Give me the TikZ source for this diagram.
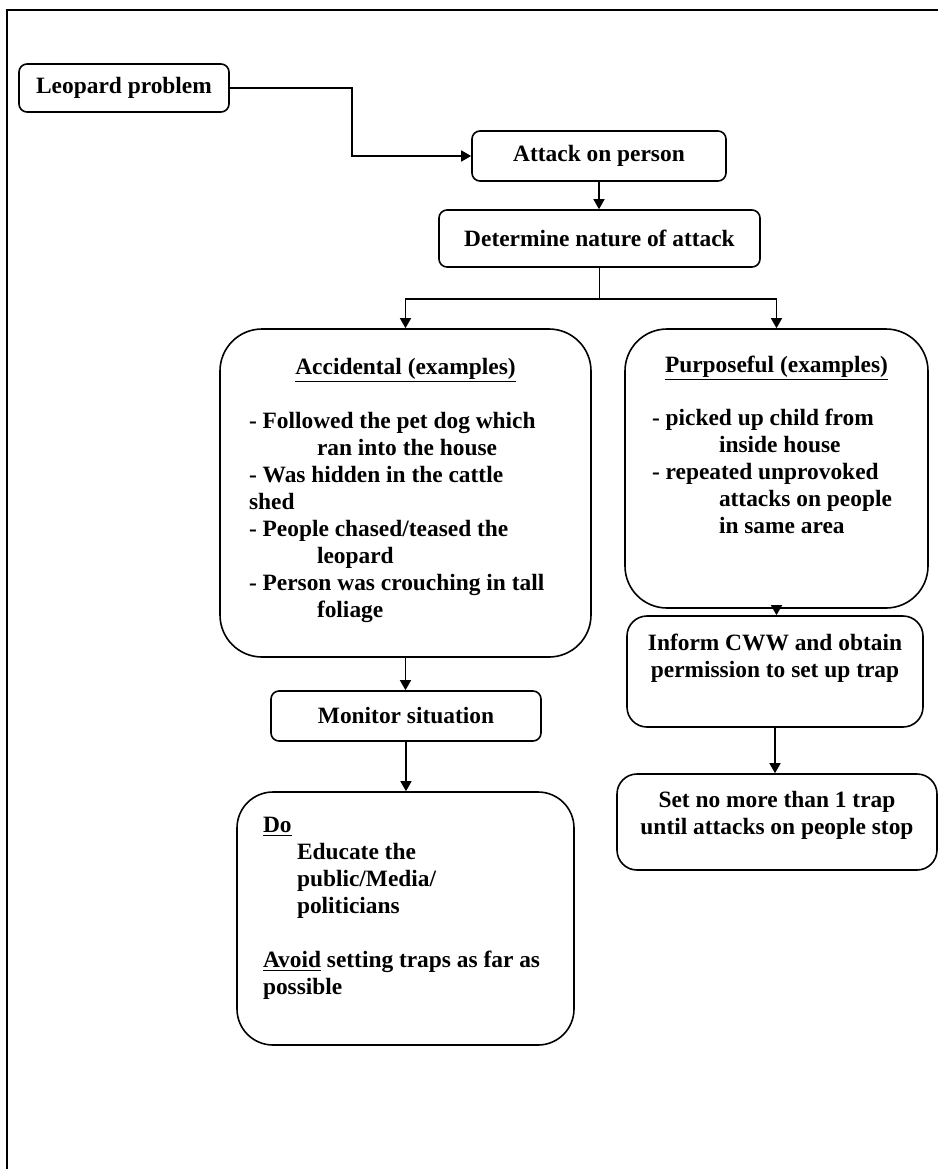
\documentclass[tikz,border=0pt]{standalone}
\usepackage{fontspec}
\setmainfont{Liberation Serif}
\usetikzlibrary{arrows.meta}
\tikzset{
    box/.style={draw, line width=0.8pt, rounded corners=4pt, inner sep=0pt,
            font=\bfseries\fontsize{11.7}{13.5}\selectfont},
    midbox/.style={box, rounded corners=10pt},
    bigbox/.style={box, rounded corners=21pt},
    arr/.style={-{Triangle[length=5pt,width=5.5pt]}, line width=0.7pt},
}

\begin{document}
\begin{tikzpicture}[x=0.5pt, y=-0.5pt]
        \useasboundingbox (0,0) rectangle (938,1169);
        %draw page frame
        \draw[line width=1pt] (7,1169) -- (7,10) -- (938,10);
        %draw top boxes
        \node[box, minimum width=105pt, minimum height=24pt] (leo) at (124,88) {Leopard problem};
        \node[box, minimum width=127pt, minimum height=25pt] (att) at (599,156) {Attack on person};
        \node[box, minimum width=160.5pt, minimum height=28.5pt] (det) at (599.5,238.5) {Determine nature of attack};
        %draw left branch
        \node[bigbox] (acc) at (405.5,493) {\parbox[c][164pt][t]{185.5pt}{%
            \centering\rule{0pt}{22.5pt}\underline{Accidental (examples)}\par\vspace{13.5pt}
            \raggedright\leftskip=14.5pt
            - Followed the pet dog which\\
            \hspace*{34pt}ran into the house\\
            - Was hidden in the cattle\\
            shed\\
            - People chased/teased the\\
            \hspace*{34pt}leopard\\
            - Person was crouching in tall\\
            \hspace*{34pt}foliage}};
        \node[box, minimum width=135pt, minimum height=25pt] (mon) at (406,716) {Monitor situation};
        \node[bigbox, rounded corners=18pt] (do) at (405.5,918.5) {\parbox[c][126.5pt][t]{168.5pt}{%
            \raggedright\leftskip=13pt
            \rule{0pt}{20pt}\underline{Do}\\
            \hspace*{17pt}Educate the\\
            \hspace*{17pt}public/Media/\\
            \hspace*{17pt}politicians\par\vspace{13.5pt}
            \underline{Avoid} setting traps as far as\\
            possible}};
        %draw right branch
        \node[bigbox] (pur) at (776.5,468.5) {\parbox[c][139.5pt][t]{151.5pt}{%
            \centering\rule{0pt}{21.5pt}\underline{Purposeful (examples)}\par\vspace{13pt}
            \raggedright\leftskip=13.5pt
            - picked up child from\\
            \hspace*{33.5pt}inside house\\
            - repeated unprovoked\\
            \hspace*{33.5pt}attacks on people\\
            \hspace*{33.5pt}in same area}};
        \node[midbox] (inf) at (775,671.5) {\parbox[c][55.5pt][t]{148pt}{%
            \centering\rule{0pt}{17pt}Inform CWW and obtain\\
            permission to set up trap}};
        \node[midbox] (set) at (777,822) {\parbox[c][48pt][t]{160pt}{%
            \centering\rule{0pt}{16.5pt}Set no more than 1 trap\\
            until attacks on people stop}};
        %draw connectors
        \draw[arr] (leo.east) -- ++(122,0) |- (att.west);
        \draw[arr] (att.south) -- (att.south |- det.north);
        \draw[line width=0.7pt] (det.south) -- ++(0,31) coordinate (split);
        \draw[arr] (split) -| (acc.north);
        \draw[arr] (split) -| (pur.north);
        \draw[arr] (acc.south) -- (acc.south |- mon.north);
        \draw[arr] (mon.south) -- (mon.south |- do.north);
        \draw[arr] (pur.south) -- (pur.south |- inf.north);
        \draw[arr] (inf.south) -- (inf.south |- set.north);
    \end{tikzpicture}
\end{document}
